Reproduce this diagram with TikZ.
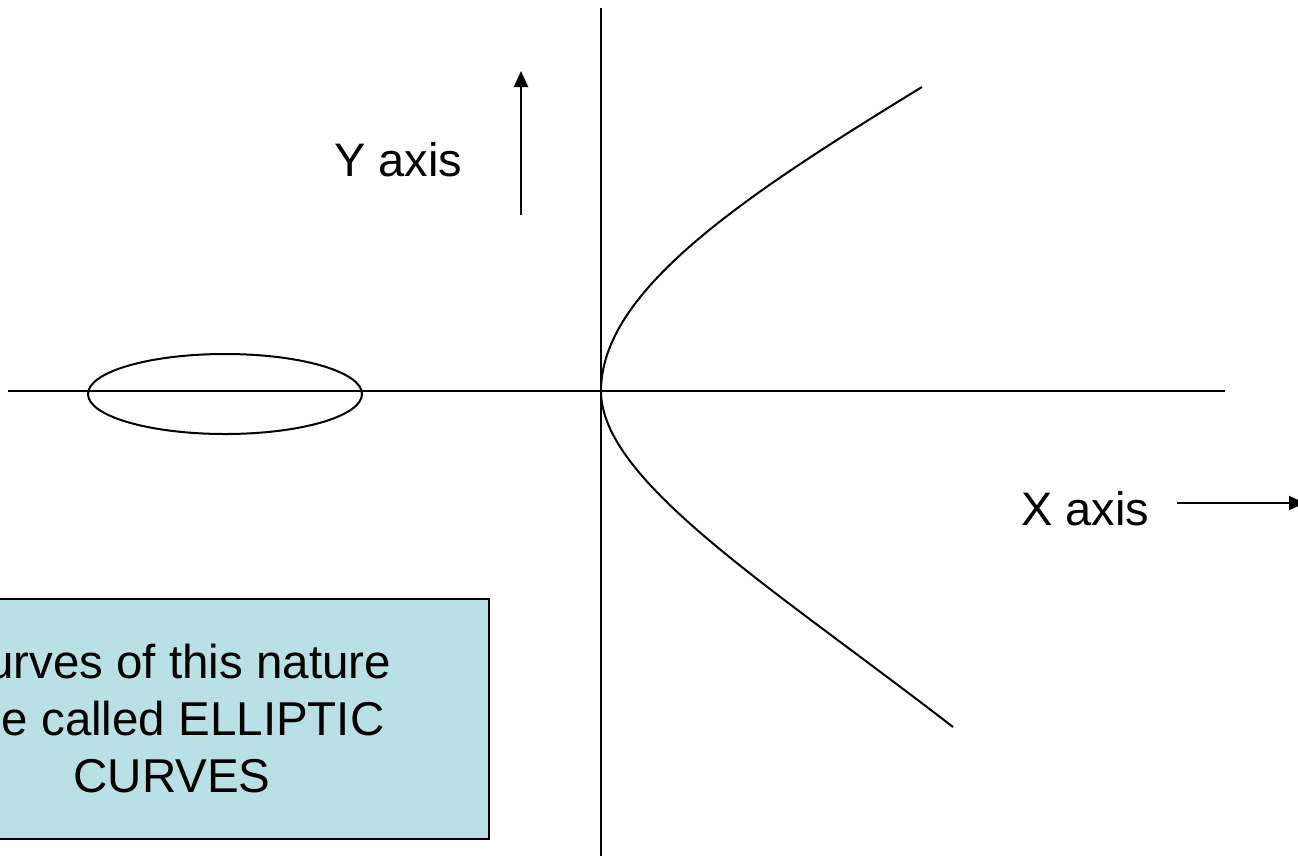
\documentclass[tikz,border=0pt]{standalone}
\usepackage{fontspec}
\setmainfont{Liberation Sans}
\usetikzlibrary{arrows.meta}
\definecolor{boxfill}{RGB}{185,224,228}
\tikzset{
  axis/.style={line width=2pt, black},
  curveline/.style={line width=2pt, black},
  arrowline/.style={line width=2pt, black, -{Triangle[length=16pt,width=14pt]}},
  label/.style={font=\fontsize{47}{57}\selectfont, inner sep=0pt},
  notebox/.style={draw=black, line width=1.6pt, fill=boxfill, minimum width=634pt, minimum height=240pt,
    align=center, font=\fontsize{47.5}{57}\selectfont, inner sep=0pt}
}
\begin{document}
\begin{tikzpicture}[x=1pt,y=-1pt]
\useasboundingbox (0,0) rectangle (1298,855);
\clip (0,0) rectangle (1298,855);
% box
\node[notebox] (note) at (172,719) {Curves of this nature\\are called ELLIPTIC\\CURVES};
% axes
\coordinate (vtop) at (601,8);
\coordinate (vbot) at (601,860);
\coordinate (hl) at (8,391);
\coordinate (hr) at (1225,391);
\draw[axis] (vtop) -- (vbot);
\draw[axis] (hl) -- (hr);
% ellipse
\draw[curveline] (225,394) ellipse [x radius=137, y radius=40];
% curve
\coordinate (ctop) at (922,87);
\coordinate (cmid) at (601,391);
\coordinate (cbot) at (953,727);
\draw[curveline] (ctop) .. controls (742,197) and (601,291) .. (cmid)
  .. controls (601,481) and (772,587) .. (cbot);
% labels and arrows
\node[label, anchor=base west] (ylab) at (334,176) {Y axis};
\coordinate (ya) at (521,215);
\coordinate (yb) at (521,71);
\draw[arrowline] (ya) -- (yb);
\node[label, anchor=base west] (xlab) at (1021,525) {X axis};
\coordinate (xa) at (1177,503);
\coordinate (xb) at (1305,503);
\draw[arrowline] (xa) -- (xb);
\end{tikzpicture}
\end{document}
